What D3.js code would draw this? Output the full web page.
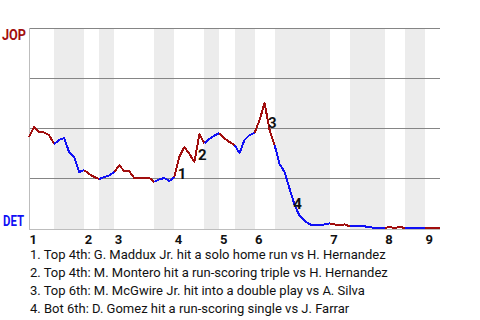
<!DOCTYPE html>
<html><head><meta charset="utf-8">
<script src="https://cdn.jsdelivr.net/npm/d3@7"></script>
<style>body{margin:0;background:#fff}svg{display:block}text{font-family:Roboto,"Noto Sans",sans-serif}</style>
</head><body><svg id="c" width="480" height="320"></svg>
<script>
// ---- data ----
const awayTeam = "JOP";
const homeTeam = "DET";
// plate appearances in each half inning (top 1st, bot 1st, top 2nd, ...)
const halfInningPA = [5,6,3,3,8,4,6,3,3,4,4,11,4,7,4,4,3];
const inningLabels = ["1","2","3","4","5","6","7","8","9"];
// JOP win probability (%) after each plate appearance (index 0 = game start)
const winProb = [
  45.5,50.5,48,47.8,46.5,42,
  44,45,38,35.5,28,29,
  27,25.5,24.5,
  25.5,26.3,28,
  31.3,28.5,28.3,25,25,25,25,23,
  24.3,25,23.5,25.5,
  35.5,40.5,37,33,47,42.3,
  44.5,46.3,47.5,
  44.8,43,41.5,
  37.5,44,46.5,47.5,
  54,62.5,49,41.5,
  32,28,19.5,11.5,6,3.5,1.8,1.5,1.5,1.8,2.3,
  1.8,1.3,1.8,0.8,
  0.8,0.8,0.8,0.4,0.1,0.1,0.1,
  0.4,0.1,0.4,0.1,
  0.1,0.1,0.1,0.1,
  0.1,0.1,0
];
// plate-appearance index (ending point) of each annotated event
const eventIndex = [30,34,48,53];
const eventText = [
  "Top 4th: G. Maddux Jr. hit a solo home run vs H. Hernandez",
  "Top 4th: M. Montero hit a run-scoring triple vs H. Hernandez",
  "Top 6th: M. McGwire Jr. hit into a double play vs A. Silva",
  "Bot 6th: D. Gomez hit a run-scoring single vs J. Farrar"
];

// ---- drawing ----
const svg = d3.select("#c");
const nPA = winProb.length - 1;
const x = d3.scaleLinear().domain([0, nPA]).range([29, 440]);
const y = d3.scaleLinear().domain([0, 100]).range([228, 28]);
const awayColor = "#a10e0e", homeColor = "#1010f5";

// half inning boundaries
const starts = [0];
halfInningPA.forEach((n,i)=>starts.push(starts[i]+n));

// shaded bottom halves
const bands = svg.append("g");
halfInningPA.forEach((n,i)=>{
  if (i % 2 === 1) {
    bands.append("rect")
      .attr("x", x(starts[i])).attr("y", y(100))
      .attr("width", x(starts[i+1]) - x(starts[i]))
      .attr("height", 229 - y(100))
      .attr("fill", "#ececec").attr("shape-rendering","crispEdges");
  }
});

// grid lines
const grid = svg.append("g");
[100,75,50,25].forEach(v=>{
  grid.append("line").attr("x1", 30).attr("x2", 440)
    .attr("y1", Math.round(y(v))+0.5).attr("y2", Math.round(y(v))+0.5)
    .attr("stroke","#858585").attr("stroke-width",1);
});
// axis lines
svg.append("line").attr("x1",29.5).attr("x2",29.5).attr("y1",y(100)).attr("y2",230)
  .attr("stroke","#bdbdbd");
svg.append("line").attr("x1",29).attr("x2",440).attr("y1",229.5).attr("y2",229.5)
  .attr("stroke","#bdbdbd");

// win probability line, coloured by batting team
const line = d3.line().x(d=>x(d[0])).y(d=>y(d[1]));
halfInningPA.forEach((n,i)=>{
  const pts = [];
  for (let k = starts[i]; k <= starts[i+1]; k++) pts.push([k, winProb[k]]);
  svg.append("path").attr("d", line(pts))
    .attr("fill","none")
    .attr("stroke", i % 2 === 0 ? awayColor : homeColor)
    .attr("stroke-width", 2)
    .attr("stroke-linejoin","round")
    .attr("shape-rendering","crispEdges");
});

// event markers
eventIndex.forEach((idx,i)=>{
  const mx = (x(idx-1)+x(idx))/2;
  const my = (y(winProb[idx-1])+y(winProb[idx]))/2;
  svg.append("text").attr("x", mx+1).attr("y", my+11.5)
    .attr("font-size", 15).attr("font-weight","bold").attr("fill","#111")
    .text(i+1);
});

// team labels
svg.append("text").attr("x", 2).attr("y", 40)
  .attr("textLength",24).attr("lengthAdjust","spacingAndGlyphs")
  .attr("font-size",15.5).attr("font-weight","bold").attr("fill",awayColor).text(awayTeam);
svg.append("text").attr("x", 3).attr("y", 226)
  .attr("textLength",21).attr("lengthAdjust","spacingAndGlyphs")
  .attr("font-size",15.5).attr("font-weight","bold").attr("fill",homeColor).text(homeTeam);

// inning tick labels
inningLabels.forEach((lab,i)=>{
  svg.append("text").attr("x", x(starts[i*2])+0.5).attr("y", 243.5)
    .attr("font-size",13).attr("font-weight","bold").attr("fill","#111").text(lab);
});

// event descriptions
eventText.forEach((t,i)=>{
  svg.append("text").attr("x", 30).attr("y", 259 + i*18)
    .attr("font-size",13).attr("fill","#111").text((i+1)+". "+t);
});
</script></body></html>
